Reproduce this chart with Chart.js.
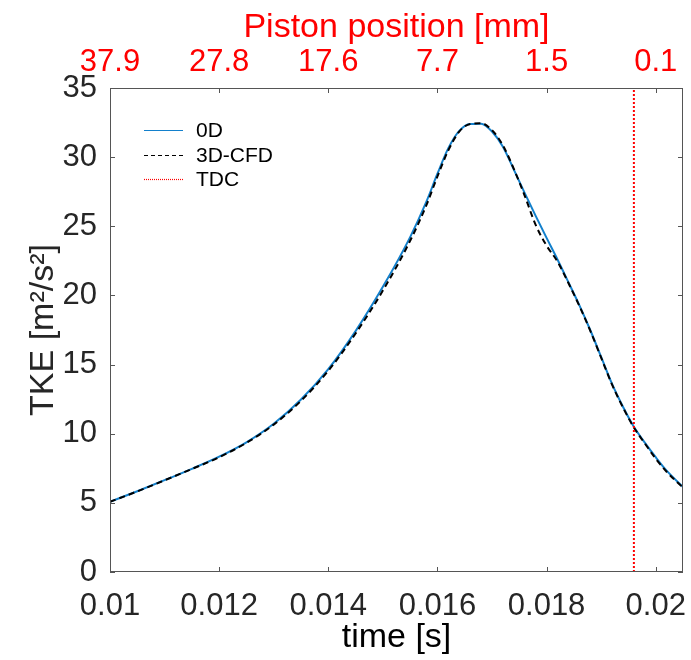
<!DOCTYPE html>
<html>
<head>
<meta charset="utf-8">
<script src="https://cdn.jsdelivr.net/npm/chart.js@4.4.1/dist/chart.umd.min.js"></script>
<style>
  body { margin: 0; background: #fff; }
  canvas { display: block; }
</style>
</head>
<body>
<canvas id="tkeChart" width="691" height="660"></canvas>
<script>
// Data
const time = [0.0100, 0.0105, 0.0110, 0.0115, 0.0120, 0.0125, 0.0130, 0.0135, 0.0140, 0.0145,
  0.0150, 0.0155, 0.0158, 0.0160, 0.0162, 0.0164, 0.0166, 0.0168, 0.0170, 0.0172,
  0.0174, 0.0176, 0.0178, 0.0180, 0.0182, 0.0184, 0.0186, 0.0188, 0.0190, 0.0192,
  0.0194, 0.0196, 0.0198, 0.0200, 0.0202, 0.0205];
const tke0D = [5.08, 5.84, 6.64, 7.46, 8.34, 9.38, 10.72, 12.47, 14.67, 17.42,
  20.62, 24.22, 26.8, 28.8, 30.65, 31.9, 32.4, 32.42, 31.85, 30.75,
  29.1, 27.4, 25.75, 24.16, 22.6, 20.96, 19.3, 17.5, 15.55, 13.6,
  11.95, 10.5, 9.35, 8.3, 7.33, 6.15];
const tkeCFD = [5.08, 5.83, 6.63, 7.45, 8.3, 9.34, 10.66, 12.38, 14.55, 17.25,
  20.35, 23.95, 26.55, 28.6, 30.5, 31.85, 32.4, 32.45, 31.95, 30.85,
  29.15, 27.2, 25.1, 23.6, 22.45, 20.9, 19.25, 17.45, 15.5, 13.55,
  11.9, 10.45, 9.3, 8.2, 7.25, 6.1];
const tdcTime = 0.0196;
const timeTicks = [0.010, 0.012, 0.014, 0.016, 0.018, 0.020];
const pistonLabels = ['37.9', '27.8', '17.6', '7.7', '1.5', '0.1'];
const tkeTicks = [0, 5, 10, 15, 20, 25, 30, 35];

const FONT = '"Liberation Sans", Arial, Helvetica, sans-serif';
const TEXT = '#262626';
const AXIS = '#555555';

// Box around the axes with inward ticks on all four sides
const boxTicks = {
  id: 'boxTicks',
  afterDraw(chart) {
    const { ctx, chartArea: a, scales } = chart;
    const len = 5;
    ctx.save();
    ctx.strokeStyle = AXIS;
    ctx.lineWidth = 1;
    ctx.strokeRect(a.left + 0.5, a.top + 0.5, a.right - a.left - 1, a.bottom - a.top - 1);
    ctx.beginPath();
    scales.x.ticks.forEach(t => {
      const px = Math.round(scales.x.getPixelForValue(t.value)) + 0.5;
      ctx.moveTo(px, a.bottom); ctx.lineTo(px, a.bottom - len);
      ctx.moveTo(px, a.top); ctx.lineTo(px, a.top + len);
    });
    scales.y.ticks.forEach(t => {
      const py = Math.round(scales.y.getPixelForValue(t.value)) + 0.5;
      ctx.moveTo(a.left, py); ctx.lineTo(a.left + len, py);
      ctx.moveTo(a.right, py); ctx.lineTo(a.right - len, py);
    });
    ctx.stroke();
    ctx.restore();
  }
};

// Legend drawn inside the plot, top-left, no frame
const innerLegend = {
  id: 'innerLegend',
  afterDraw(chart) {
    const { ctx, chartArea: a } = chart;
    const x0 = a.left + 34, lineLen = 39, textX = a.left + 86;
    const y0 = a.top + 42, rowH = 24.5;
    ctx.save();
    ctx.font = '21px ' + FONT;
    ctx.textBaseline = 'middle';
    ctx.fillStyle = '#000';
    chart.data.datasets.forEach((ds, i) => {
      const y = Math.round(y0 + i * rowH) + 0.5;
      ctx.strokeStyle = ds.borderColor;
      ctx.lineWidth = 1.2;
      ctx.setLineDash(ds.legendDash || []);
      ctx.beginPath();
      ctx.moveTo(x0, y); ctx.lineTo(x0 + lineLen, y);
      ctx.stroke();
      ctx.fillText(ds.label, textX, y + 1);
    });
    ctx.restore();
  }
};

// keep the plot box fixed: no extra room reserved for edge tick labels
function fixHeight(h) {
  return scale => {
    scale.height = h;
    scale.paddingLeft = 0;
    scale.paddingRight = 0;
  };
}

const ctx = document.getElementById('tkeChart').getContext('2d');
new Chart(ctx, {
  type: 'line',
  data: {
    datasets: [
      {
        label: '0D',
        data: time.map((t, i) => ({ x: t, y: tke0D[i] })),
        borderColor: '#1380cc',
        borderWidth: 2,
        pointRadius: 0,
        cubicInterpolationMode: 'monotone',
        order: 3
      },
      {
        label: '3D-CFD',
        data: time.map((t, i) => ({ x: t, y: tkeCFD[i] })),
        borderColor: '#000000',
        borderWidth: 2,
        borderDash: [6, 4],
        legendDash: [4, 3],
        pointRadius: 0,
        cubicInterpolationMode: 'monotone',
        order: 2
      },
      {
        label: 'TDC',
        data: [{ x: tdcTime, y: 0 }, { x: tdcTime, y: 35 }],
        borderColor: '#ff0000',
        borderWidth: 2,
        borderDash: [2, 2],
        legendDash: [1, 1],
        pointRadius: 0,
        order: 1
      }
    ]
  },
  options: {
    responsive: false,
    devicePixelRatio: 1,
    animation: false,
    layout: { padding: { left: 0, right: 8, top: 0, bottom: 0 } },
    plugins: {
      legend: { display: false },
      tooltip: { enabled: false }
    },
    scales: {
      x: {
        type: 'linear',
        position: 'bottom',
        min: 0.01,
        max: 0.0205,
        afterBuildTicks: scale => { scale.ticks = timeTicks.map(v => ({ value: v })); },
        afterFit: fixHeight(88),
        grid: { display: false, drawTicks: false },
        border: { display: false },
        ticks: {
          autoSkip: false,
          maxRotation: 0,
          padding: 19,
          color: TEXT,
          font: { family: FONT, size: 31, lineHeight: 1 },
          callback: v => String(+v.toFixed(3))
        },
        title: {
          display: true,
          text: 'time [s]',
          color: '#000',
          padding: { top: 0, bottom: 5 },
          font: { family: FONT, size: 34, lineHeight: 1 }
        }
      },
      x2: {
        type: 'linear',
        position: 'top',
        min: 0.01,
        max: 0.0205,
        afterBuildTicks: scale => { scale.ticks = timeTicks.map(v => ({ value: v })); },
        afterFit: fixHeight(88),
        grid: { display: false, drawTicks: false },
        border: { display: false },
        ticks: {
          autoSkip: false,
          maxRotation: 0,
          padding: 10,
          color: '#ff0000',
          font: { family: FONT, size: 31, lineHeight: 1 },
          callback: (v, i) => pistonLabels[i]
        },
        title: {
          display: true,
          text: 'Piston position [mm]',
          color: '#ff0000',
          padding: { top: 11, bottom: 0 },
          font: { family: FONT, size: 34, lineHeight: 1 }
        }
      },
      y: {
        type: 'linear',
        min: 0,
        max: 35,
        afterBuildTicks: scale => { scale.ticks = tkeTicks.map(v => ({ value: v })); },
        afterFit: scale => { scale.width = 110; scale.paddingTop = 0; scale.paddingBottom = 0; },
        grid: { display: false, drawTicks: false },
        border: { display: false },
        ticks: {
          padding: 13,
          color: TEXT,
          font: { family: FONT, size: 31, lineHeight: 1 }
        },
        title: {
          display: true,
          text: 'TKE [m²/s²]',
          color: TEXT,
          padding: { top: 27, bottom: 0 },
          font: { family: FONT, size: 34, lineHeight: 1 }
        }
      }
    }
  },
  plugins: [boxTicks, innerLegend]
});
</script>
</body>
</html>
